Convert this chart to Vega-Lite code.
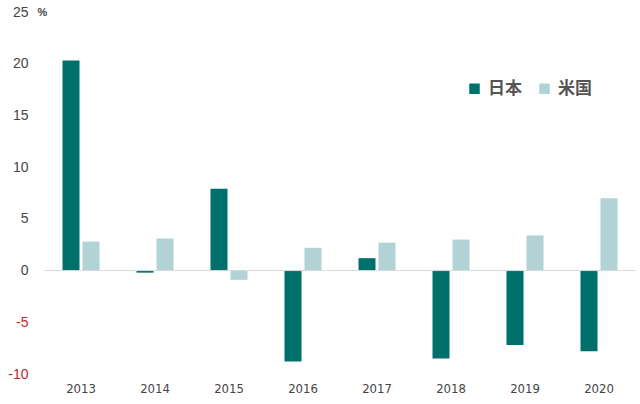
{
  "$schema": "https://vega.github.io/schema/vega-lite/v6.json",
  "autosize": {"type": "none"},
  "padding": {"left": 44, "top": 12, "right": 4, "bottom": 30},
  "width": 592,
  "height": 362,
  "background": "white",
  "config": {"view": {"stroke": null}},
  "data": {
    "values": [
      {"year": "2013", "country": "日本", "value": 20.3},
      {"year": "2013", "country": "米国", "value": 2.8},
      {"year": "2014", "country": "日本", "value": -0.2},
      {"year": "2014", "country": "米国", "value": 3.1},
      {"year": "2015", "country": "日本", "value": 7.9},
      {"year": "2015", "country": "米国", "value": -0.9},
      {"year": "2016", "country": "日本", "value": -8.8},
      {"year": "2016", "country": "米国", "value": 2.2},
      {"year": "2017", "country": "日本", "value": 1.2},
      {"year": "2017", "country": "米国", "value": 2.7},
      {"year": "2018", "country": "日本", "value": -8.5},
      {"year": "2018", "country": "米国", "value": 3.0},
      {"year": "2019", "country": "日本", "value": -7.2},
      {"year": "2019", "country": "米国", "value": 3.4},
      {"year": "2020", "country": "日本", "value": -7.8},
      {"year": "2020", "country": "米国", "value": 7.0}
    ]
  },
  "layer": [
    {
      "mark": {"type": "bar"},
      "encoding": {
        "x": {
          "field": "year",
          "type": "nominal",
          "title": null,
          "scale": {"paddingInner": 0.5, "paddingOuter": 0.25},
          "axis": {
            "domain": false,
            "ticks": false,
            "labelAngle": 0,
            "labelFont": "DejaVu Sans Condensed, Liberation Sans",
            "labelFontSize": 13,
            "labelColor": "#444444",
            "labelPadding": 0,
            "orient": "bottom",
            "offset": 8
          }
        },
        "xOffset": {
          "field": "country",
          "type": "nominal",
          "sort": ["日本", "米国"],
          "scale": {"paddingInner": 0.15}
        },
        "y": {
          "field": "value",
          "type": "quantitative",
          "scale": {"domain": [-10, 25], "nice": false},
          "axis": {
            "values": [-10, -5, 0, 5, 10, 15, 20, 25],
            "labelExpr": "datum.value + ''",
            "domain": false,
            "ticks": false,
            "grid": false,
            "labelFont": "Liberation Sans",
            "labelFontSize": 14,
            "labelPadding": 16,
            "labelColor": {"condition": {"test": "datum.value < 0", "value": "#c0272d"}, "value": "#444444"},
            "title": "%",
            "titleAngle": 0,
            "titleX": -2,
            "titleY": 0,
            "titleAlign": "center",
            "titleBaseline": "middle",
            "titleFontSize": 11,
            "titleFontWeight": "bold",
            "titleColor": "#444444"
          }
        },
        "color": {
          "field": "country",
          "type": "nominal",
          "sort": ["日本", "米国"],
          "scale": {"domain": ["日本", "米国"], "range": ["#00706c", "#b2d3d6"]},
          "legend": {
            "title": null,
            "orient": "none",
            "legendX": 422,
            "legendY": 68,
            "direction": "horizontal",
            "symbolType": "square",
            "symbolSize": 110,
            "symbolStrokeWidth": 0,
            "labelFont": "Noto Sans CJK JP",
            "labelFontSize": 17,
            "labelFontWeight": "bold",
            "labelColor": "#555555",
            "columnPadding": 14,
            "labelOffset": 5
          }
        }
      }
    },
    {
      "data": {"values": [{"y": 0}]},
      "mark": {"type": "rule", "color": "#d9d9d9", "strokeWidth": 1},
      "encoding": {"y": {"field": "y", "type": "quantitative"}}
    }
  ]
}
